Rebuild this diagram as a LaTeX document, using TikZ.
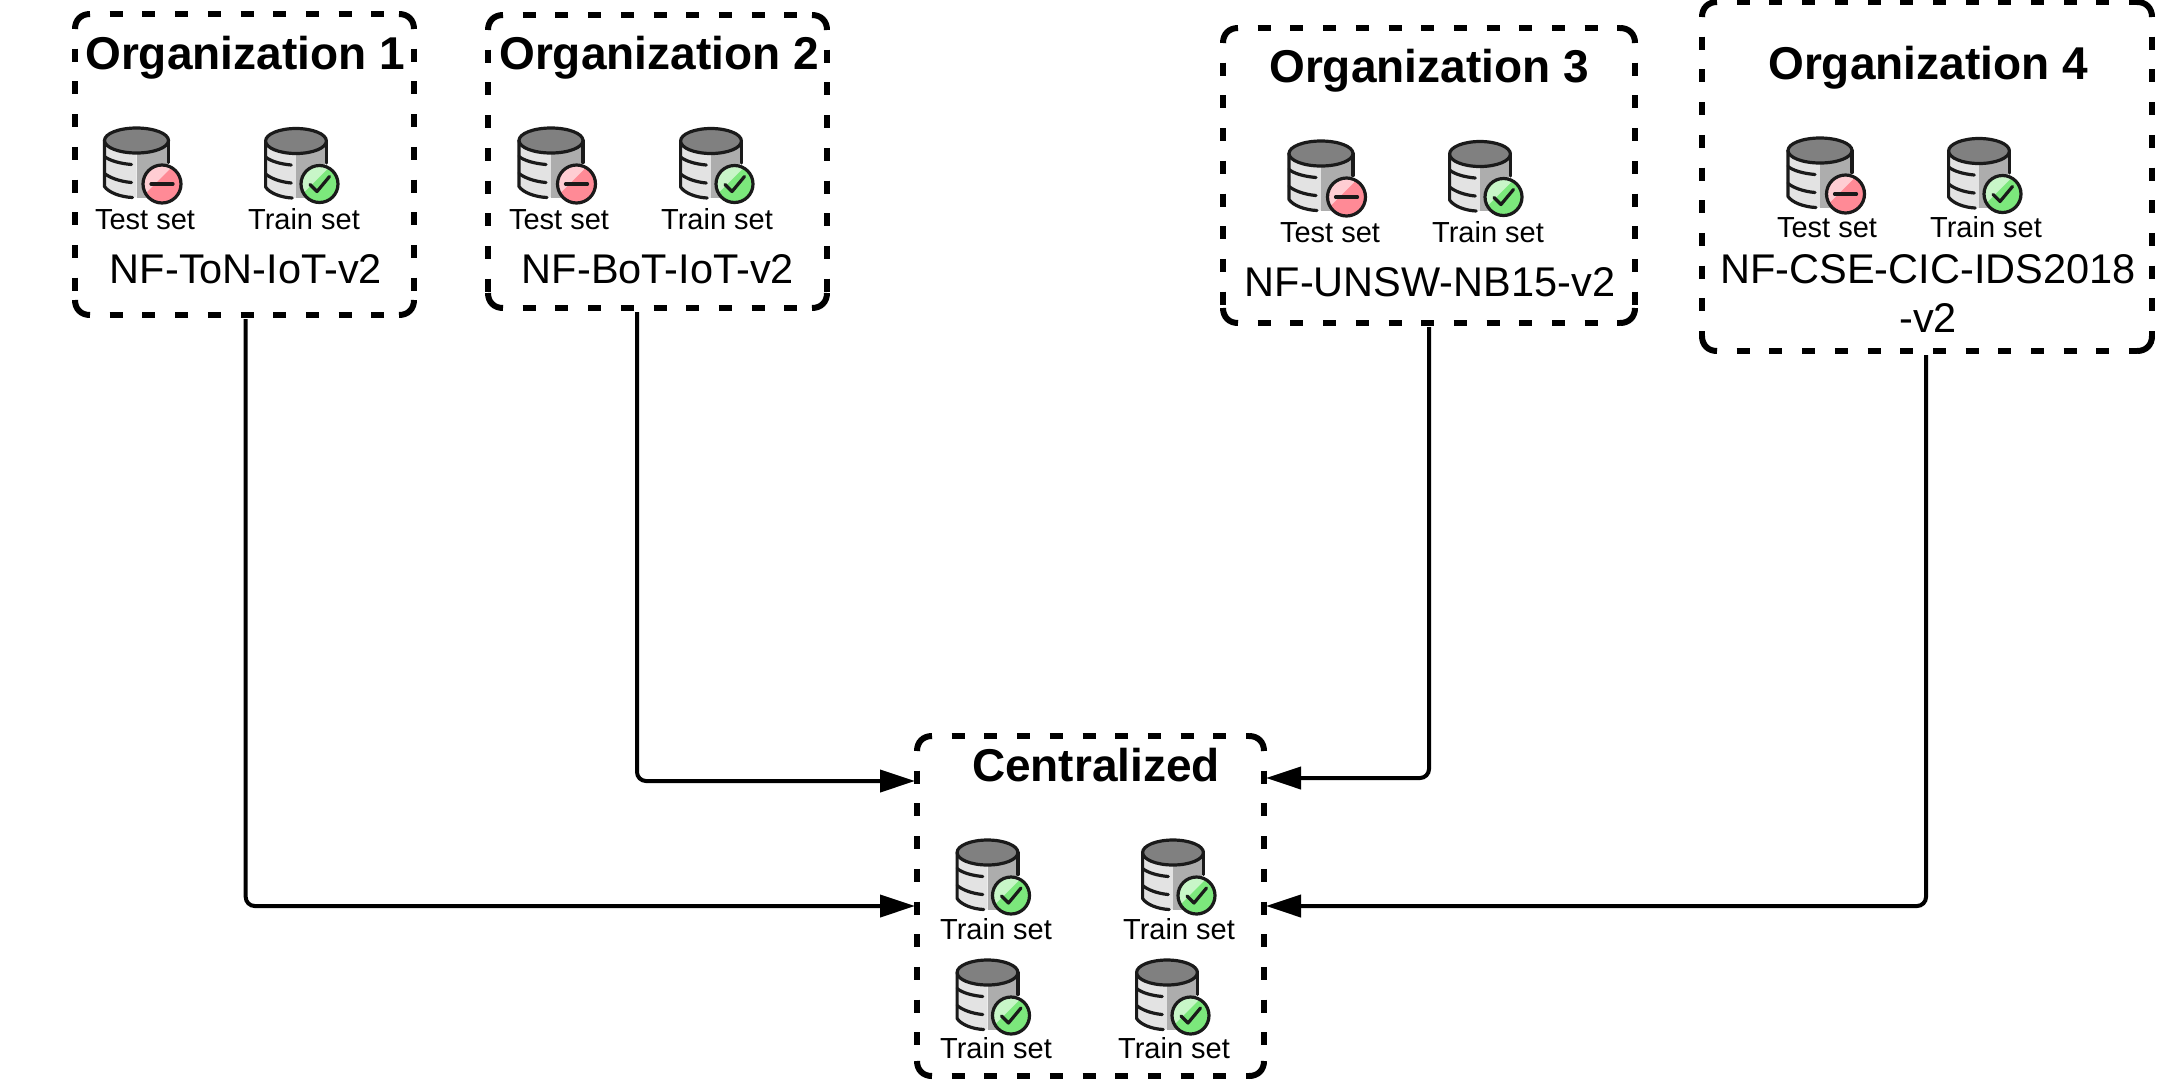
\documentclass[tikz,border=0pt]{standalone}
\usepackage{fontspec}
\setmainfont{Liberation Sans}
\usetikzlibrary{arrows.meta}
\definecolor{cylTop}{HTML}{808080}
\definecolor{cylL}{HTML}{E3E3E3}
\definecolor{cylR}{HTML}{ADADAD}
\definecolor{inkK}{HTML}{1A1A1A}
\definecolor{redL}{HTML}{FFCDD3}
\definecolor{redD}{HTML}{FF8A96}
\definecolor{grnL}{HTML}{C8F6C8}
\definecolor{grnD}{HTML}{7CE87C}
\tikzset{
  boxnode/.style={inner sep=0pt,outer sep=0pt,draw=none},
  boxdash/.style={line width=6pt,draw=black,dash pattern=on 13pt off 19.7pt,dash phase=13pt},
  boxarc/.style={line width=6pt,draw=black},
  titletxt/.style={font=\fontsize{46}{46}\bfseries\selectfont,anchor=base,inner sep=0pt},
  settxt/.style={font=\fontsize{29}{29}\selectfont,anchor=base,inner sep=0pt},
  datatxt/.style={font=\fontsize{41.5}{41.5}\selectfont,anchor=base,inner sep=0pt},
  conn/.style={line width=4pt,draw=black,rounded corners=9pt,-{Triangle[length=35pt,width=22pt]},shorten <=4pt},
  icline/.style={line width=3.2pt,draw=inkK,line cap=round,line join=round},
}
% dashed box: name, x1, y1, x2, y2
\newcommand{\orgframe}[5]{%
  \node[boxnode,minimum width=#4pt-#2pt,minimum height=#5pt-#3pt] (#1) at ({(#2+#4)/2},{(#3+#5)/2}) {};
  \draw[boxdash] (#2+15,#3) -- (#4-15,#3);
  \draw[boxdash] (#2+15,#5) -- (#4-15,#5);
  \draw[boxdash] (#2,#3+15) -- (#2,#5-15);
  \draw[boxdash] (#4,#3+15) -- (#4,#5-15);
  \draw[boxarc] (#2,#3+15) .. controls (#2,#3+6) and (#2+6,#3) .. (#2+15,#3);
  \draw[boxarc] (#4-15,#3) .. controls (#4-6,#3) and (#4,#3+6) .. (#4,#3+15);
  \draw[boxarc] (#4,#5-15) .. controls (#4,#5-6) and (#4-6,#5) .. (#4-15,#5);
  \draw[boxarc] (#2+15,#5) .. controls (#2+6,#5) and (#2,#5-6) .. (#2,#5-15);
}
% database body: cx, cy, width factor
\newcommand{\dbbody}[3]{%
  \begin{scope}[shift={(#1,#2)},xscale=#3]
    \fill[cylL] (-31,0) -- (-31,47) .. controls (-27,52) and (-15,56) .. (0,57) -- (0,0) -- cycle;
    \fill[cylR] (0,0) -- (0,57) -- (31,57) -- (31,0) -- cycle;
    \draw[icline] (-32,16) .. controls (-27,20) and (-17,23) .. (-5,24);
    \draw[icline] (-32,33) .. controls (-27,37) and (-17,41) .. (-5,42);
    \draw[icline] (-32,0) -- (-32,46) .. controls (-28,52) and (-16,56.5) .. (-4,57);
    \draw[icline] (32,0) -- (32,22);
    \draw[icline,fill=cylTop] (0,0) ellipse (32 and 12.5);
  \end{scope}
}
\newcommand{\badgebase}[5]{% x, y, r, light, dark
  \begin{scope}[shift={(#1,#2)}]
    \fill[#4] (0,0) circle (#3);
    \begin{scope}
      \clip (0,0) circle (#3);
      \fill[#5] (-#3-5,#3-2) -- (#3-2,-#3-5) -- (#3+5,#3+5) -- (-#3-5,#3+5) -- cycle;
    \end{scope}
    \draw[icline] (0,0) circle (#3-1);
  \end{scope}
}
\newcommand{\testicon}[2]{%
  \dbbody{#1}{#2}{1}
  \badgebase{#1+25.5}{#2+43.5}{20}{redL}{redD}
  \draw[icline] (#1+25.5-11,#2+43.5) -- (#1+25.5+11,#2+43.5);
}
\newcommand{\trainicon}[2]{%
  \dbbody{#1}{#2}{0.95}
  \badgebase{#1+23.5}{#2+43}{19.5}{grnL}{grnD}
  \draw[icline] (#1+23.5-9.5,#2+43+0.5) -- (#1+23.5-2.5,#2+43+7.5) -- (#1+23.5+10,#2+43-7.5);
}
\begin{document}
\begin{tikzpicture}[x=1pt,y=-1pt]
\useasboundingbox (0,0) rectangle (2171,1080);
\orgframe{org1}{75}{14}{414}{315}
\orgframe{org2}{488}{15}{827}{308}
\orgframe{org3}{1223}{28}{1635}{323}
\orgframe{org4}{1702}{2}{2152}{351}
\orgframe{central}{917}{736}{1264}{1076}
% titles
\node[titletxt] (t1) at (245,69) {Organization 1};
\node[titletxt] (t2) at (659,69) {Organization 2};
\node[titletxt] (t3) at (1429,82) {Organization 3};
\node[titletxt] (t4) at (1928,79) {Organization 4};
\node[titletxt] (t5) at (1096,781) {Centralized};
% icons
\testicon{136.5}{140.5}\trainicon{296}{141}
\testicon{551}{140.5}\trainicon{711}{141}
\testicon{1321}{153.5}\trainicon{1480}{154}
\testicon{1820}{150.5}\trainicon{1979}{151}
\trainicon{987.5}{852.5}\trainicon{1173}{852.5}
\trainicon{987.5}{972.5}\trainicon{1167}{972.5}
% labels
\node[settxt] (a1) at (145,229) {Test set};
\node[settxt] (a2) at (304,229) {Train set};
\node[settxt] (b1) at (559,229) {Test set};
\node[settxt] (b2) at (717,229) {Train set};
\node[settxt] (c1) at (1330,242) {Test set};
\node[settxt] (c2) at (1488,242) {Train set};
\node[settxt] (d1) at (1827,237) {Test set};
\node[settxt] (d2) at (1986,237) {Train set};
\node[settxt] (e1) at (996,939) {Train set};
\node[settxt] (e2) at (1179,939) {Train set};
\node[settxt] (e3) at (996,1058) {Train set};
\node[settxt] (e4) at (1174,1058) {Train set};
\node[datatxt] (n1) at (246,283) {NF-ToN-IoT-v2};
\node[datatxt] (n2) at (658,283) {NF-BoT-IoT-v2};
\node[datatxt] (n3) at (1430,296) {NF-UNSW-NB15-v2};
\node[datatxt] (n4) at (1928,283) {NF-CSE-CIC-IDS2018};
\node[datatxt] (n5) at (1928,332) {-v2};
% connectors
\draw[conn] ([xshift=1.2pt]org1.south) |- ([xshift=-2pt]central.west);
\draw[conn] ([xshift=-20.5pt]org2.south) |- ([xshift=-2pt,yshift=125pt]central.west);
\draw[conn] (org3.south) |- ([xshift=2pt,yshift=128pt]central.east);
\draw[conn] ([xshift=-1pt]org4.south) |- ([xshift=2pt]central.east);
\end{tikzpicture}
\end{document}
